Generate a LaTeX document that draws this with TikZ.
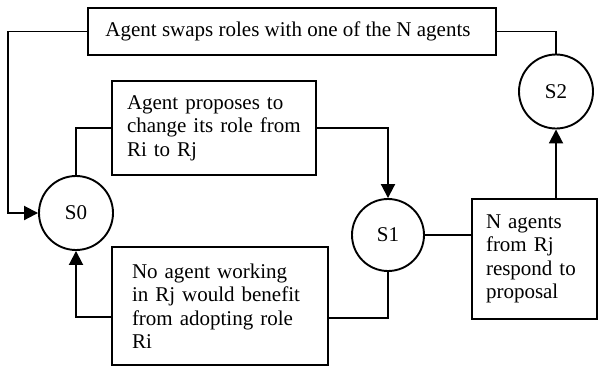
\documentclass[tikz,border=0pt]{standalone}
\usepackage{fontspec}
\setmainfont{Liberation Serif}
\usetikzlibrary{arrows.meta}
\begin{document}
\begin{tikzpicture}[x=1pt,y=-1pt,
  every node/.style={font=\fontsize{21}{23.5}\selectfont},
  line/.style={line width=1.9pt},
  arr/.style={line width=1.9pt, -{Triangle[length=14pt,width=14pt]}},
  box/.style={draw, line width=1.9pt, rectangle, inner xsep=0pt, inner ysep=0pt, align=left},
  state/.style={draw, line width=1.9pt, circle, inner sep=0pt}
]
\useasboundingbox (0,0) rectangle (599,368);
\node[box, minimum width=408pt, minimum height=47pt] (top) at (292,31.5) {Agent swaps roles with one of the N agents\hspace*{8pt}};
\node[box, minimum width=204pt, minimum height=94pt, text width=174pt] (b2) at (214,128) {Agent proposes to\\change its role from\\Ri to Rj};
\node[box, minimum width=216pt, minimum height=118pt, text width=176pt] (b3) at (220,306) {No agent working\\in Rj would benefit\\from adopting role\\Ri};
\node[box, minimum width=125pt, minimum height=120pt, text width=97pt] (b4) at (534.5,259) {N agents\\from Rj\\respond to\\proposal};
\node[state, minimum size=74pt] (s0) at (76,213) {S0};
\node[state, minimum size=72pt] (s1) at (388,235) {S1};
\node[state, minimum size=74pt] (s2) at (556,91.5) {S2};

\draw[arr] (top.west) -- ++(-79,0) |- (s0.west);
\draw[line] (b2.west) -| (s0.north);
\draw[arr] (b2.east) -| (s1.north);
\draw[arr] ([yshift=-11pt]b3.west) -| (s0.south);
\draw[line] (s1.south) |- ([yshift=-12pt]b3.east);
\draw[line] (s1.east) -- (s1.east -| b4.west);
\draw[arr] (b4.north -| s2.south) -- (s2.south);
\draw[line] (s2.north) |- (top.east);
\end{tikzpicture}
\end{document}
